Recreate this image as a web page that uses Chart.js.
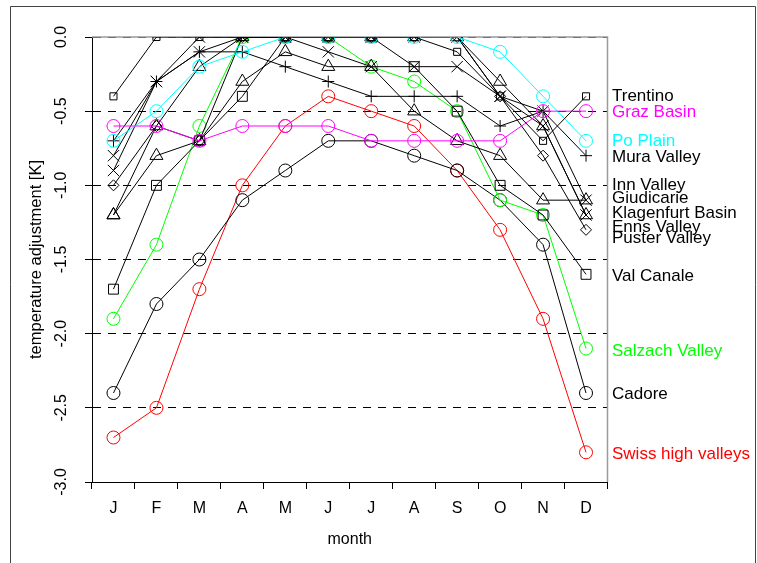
<!DOCTYPE html>
<html lang="en">
<head>
<meta charset="UTF-8">
<title>Temperature adjustment by month</title>
<script src="https://cdn.jsdelivr.net/npm/chart.js"></script>
<style>
  body { margin: 0; background: #fff; }
  canvas { display: block; }
</style>
</head>
<body>
<canvas id="grafico" width="757" height="563"></canvas>
<script>
// months on the x axis
const meses = ['J', 'F', 'M', 'A', 'M', 'J', 'J', 'A', 'S', 'O', 'N', 'D'];
// y axis tick values
const yTicks = [0, -0.5, -1, -1.5, -2, -2.5, -3];

// monthly temperature adjustment [K] per region
const trentino     = [-0.4,  0.0,  0.0,  0.0,  0.0,  0.0,  0.0,  0.0, -0.1, -0.4, -0.7, -0.4];
const grazBasin    = [-0.6, -0.6, -0.7, -0.6, -0.6, -0.6, -0.7, -0.7, -0.7, -0.7, -0.5, -0.5];
const poPlain      = [-0.7, -0.5, -0.2, -0.1,  0.0,  0.0,  0.0,  0.0,  0.0, -0.1, -0.4, -0.7];
const muraValley   = [-0.7, -0.3, -0.1, -0.1, -0.2, -0.3, -0.4, -0.4, -0.4, -0.6, -0.5, -0.8];
const innValley    = [-0.9, -0.3,  0.0,  0.0,  0.0,  0.0,  0.0,  0.0,  0.0, -0.4, -0.5, -1.1];
const giudicarie   = [-1.2, -0.6, -0.2,  0.0,  0.0,  0.0,  0.0,  0.0,  0.0, -0.3, -0.6, -1.2];
const klagenfurt   = [-0.8, -0.3, -0.1,  0.0,  0.0, -0.1, -0.2, -0.2, -0.2, -0.4, -0.6, -1.2];
const ennsValley   = [-1.2, -0.8, -0.7, -0.3, -0.1, -0.2, -0.2, -0.5, -0.7, -0.8, -1.1, -1.1];
const pusterValley = [-1.0, -0.6, -0.7,  0.0,  0.0,  0.0,  0.0,  0.0,  0.0, -0.4, -0.8, -1.3];
const valCanale    = [-1.7, -1.0, -0.7, -0.4,  0.0,  0.0,  0.0, -0.2, -0.5, -1.0, -1.2, -1.6];
const salzach      = [-1.9, -1.4, -0.6,  0.0,  0.0,  0.0, -0.2, -0.3, -0.5, -1.1, -1.2, -2.1];
const cadore       = [-2.4, -1.8, -1.5, -1.1, -0.9, -0.7, -0.7, -0.8, -0.9, -1.1, -1.4, -2.4];
const swiss        = [-2.7, -2.5, -1.7, -1.0, -0.6, -0.4, -0.5, -0.6, -0.9, -1.3, -1.9, -2.8];

// region names and where each name sits on the right (y axis units)
const nomes = ['Trentino', 'Graz Basin', 'Po Plain', 'Mura Valley', 'Inn Valley', 'Giudicarie',
    'Klagenfurt Basin', 'Enns Valley', 'Puster Valley', 'Val Canale', 'Salzach Valley', 'Cadore',
    'Swiss high valleys'];
const rotuloY = [-0.40, -0.51, -0.70, -0.81, -1.00, -1.09, -1.19, -1.28, -1.36, -1.61, -2.12, -2.41, -2.81];

const valores = [trentino, grazBasin, poPlain, muraValley, innValley, giudicarie, klagenfurt,
    ennsValley, pusterValley, valCanale, salzach, cadore, swiss];

// style per region: colour, marker, marker radius
const estilos = [
    ['#000000', 'rect', 5],
    ['#ff00ff', 'circle', 6.5],
    ['#00ffff', 'circle', 6.5],
    ['#000000', 'cross', 6],
    ['#000000', 'crossRot', 8],
    ['#000000', 'triangle', 7.5],
    ['#000000', 'crossRot', 8],
    ['#000000', 'triangle', 7.5],
    ['#000000', 'rectRot', 5.5],
    ['#000000', 'rect', 7],
    ['#00ff00', 'circle', 6.5],
    ['#000000', 'circle', 6.5],
    ['#ff0000', 'circle', 6.5]
];

const fonte = 'Liberation Sans, Arial, sans-serif';

const datasets = [];
for (let i = 0; i < nomes.length; i++) {
    const [cor, marca, raio] = estilos[i];
    datasets.push({
        label: nomes[i],
        data: valores[i],
        borderColor: cor,
        borderWidth: 1,
        pointStyle: marca,
        pointRadius: raio,
        pointBorderColor: cor,
        pointBorderWidth: 1,
        pointBackgroundColor: 'transparent',
        fill: false,
        tension: 0
    });
}

// frame, rotated y tick labels and region names
const extras = {
    id: 'extras',
    beforeDatasetsDraw(chart) {
        const ctx = chart.ctx;
        const a = chart.chartArea;
        ctx.save();
        ctx.strokeStyle = '#9a9a9a';
        ctx.lineWidth = 1.5;
        ctx.beginPath();
        ctx.moveTo(a.left, a.top);
        ctx.lineTo(a.right, a.top);
        ctx.lineTo(a.right, a.bottom);
        ctx.stroke();
        ctx.restore();
    },
    afterDraw(chart) {
        const ctx = chart.ctx;
        const y = chart.scales.y;
        ctx.save();

        // outer frame
        ctx.strokeStyle = '#444';
        ctx.lineWidth = 1;
        ctx.beginPath();
        ctx.moveTo(10.5, 563);
        ctx.lineTo(10.5, 6.5);
        ctx.lineTo(755.5, 6.5);
        ctx.lineTo(755.5, 563);
        ctx.stroke();

        ctx.font = '16px ' + fonte;
        ctx.fillStyle = '#000';
        ctx.textAlign = 'center';
        ctx.textBaseline = 'middle';
        yTicks.forEach(v => {
            ctx.save();
            ctx.translate(62, y.getPixelForValue(v));
            ctx.rotate(-Math.PI / 2);
            ctx.fillText(v.toFixed(1), 0, 0);
            ctx.restore();
        });

        ctx.font = '17px ' + fonte;
        ctx.textAlign = 'left';
        for (let i = 0; i < nomes.length; i++) {
            ctx.fillStyle = estilos[i][0];
            ctx.fillText(nomes[i], 612, y.getPixelForValue(rotuloY[i]));
        }
        ctx.restore();
    }
};

new Chart(document.getElementById('grafico'), {
    type: 'line',
    data: { labels: meses, datasets: datasets },
    plugins: [extras],
    options: {
        responsive: false,
        animation: false,
        layout: { padding: { left: 0, top: 37, right: 149.5, bottom: 0 } },
        plugins: { legend: { display: false }, tooltip: { enabled: false } },
        scales: {
            x: {
                offset: true,
                afterFit: s => { s.height = 81; },
                grid: { offset: true, drawOnChartArea: false, drawTicks: true, tickLength: 7, color: '#000' },
                border: { color: '#000', width: 1 },
                ticks: { color: '#000', font: { family: fonte, size: 16 }, padding: 10, maxRotation: 0, autoSkip: false },
                title: { display: true, text: 'month', color: '#000', font: { family: fonte, size: 16 }, padding: { top: 0, bottom: 14 } }
            },
            y: {
                min: -3,
                max: 0,
                afterFit: s => { s.width = 92; },
                ticks: { stepSize: 0.5, display: false },
                grid: { color: '#000', lineWidth: 1, tickLength: 7, tickColor: '#000', tickBorderDash: [] },
                border: { display: true, color: '#000', width: 1, dash: [8, 7] },
                title: { display: true, text: 'temperature adjustment [K]', color: '#000', font: { family: fonte, size: 16.5 }, padding: { top: 27, bottom: 0 } }
            }
        }
    }
});
</script>
</body>
</html>
